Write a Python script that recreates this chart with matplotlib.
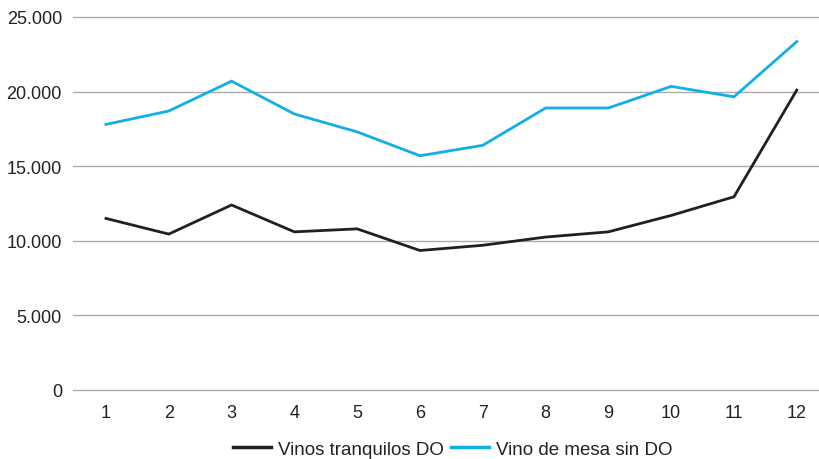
import matplotlib.pyplot as plt
from matplotlib.ticker import FuncFormatter

plt.rcParams['font.family'] = ['Liberation Sans', 'DejaVu Sans']

months = list(range(1, 13))
vinos_do = [11500, 10450, 12400, 10600, 10800, 9350, 9700, 10250, 10600, 11700, 12950, 20100]
vino_mesa = [17800, 18700, 20700, 18500, 17300, 15700, 16400, 18900, 18900, 20350, 19650, 23350]
y_ticks = [0, 5000, 10000, 15000, 20000, 25000]

BLACK = '#231f20'
BLUE = '#12aee8'
TEXT = '#222222'

fig = plt.figure(figsize=(8.2, 4.6), dpi=100)
ax = fig.add_axes([73 / 820, 1 - 391 / 460, 747 / 820, 373 / 460])

ax.plot(months, vinos_do, color=BLACK, lw=2.0, label='Vinos tranquilos DO', solid_joinstyle='miter')
ax.plot(months, vino_mesa, color=BLUE, lw=2.0, label='Vino de mesa sin DO', solid_joinstyle='miter')

ax.set_xlim(0.475, 12.37)
ax.set_ylim(0, 25000)
ax.set_xticks(months)
ax.set_yticks(y_ticks)
ax.yaxis.set_major_formatter(FuncFormatter(lambda v, p: f'{int(v):,}'.replace(',', '.')))
ax.grid(axis='y', color='#aaaaaa', lw=1.0)
for gl in ax.get_ygridlines():
    gl.set_clip_on(False)
ax.set_axisbelow(True)
for s in ax.spines.values():
    s.set_visible(False)
ax.tick_params(axis='both', length=0, labelsize=13, labelcolor=TEXT)
ax.tick_params(axis='y', pad=8)
ax.tick_params(axis='x', pad=10)

leg = fig.legend(loc='center', bbox_to_anchor=(453 / 820, 1 - 450 / 460), ncol=2,
                 frameon=False, fontsize=13.5, handlelength=2.0, handletextpad=0.4,
                 columnspacing=0.4, labelcolor=TEXT)
for line in leg.get_lines():
    line.set_linewidth(2.5)

fig.savefig('out.png', dpi=100)
